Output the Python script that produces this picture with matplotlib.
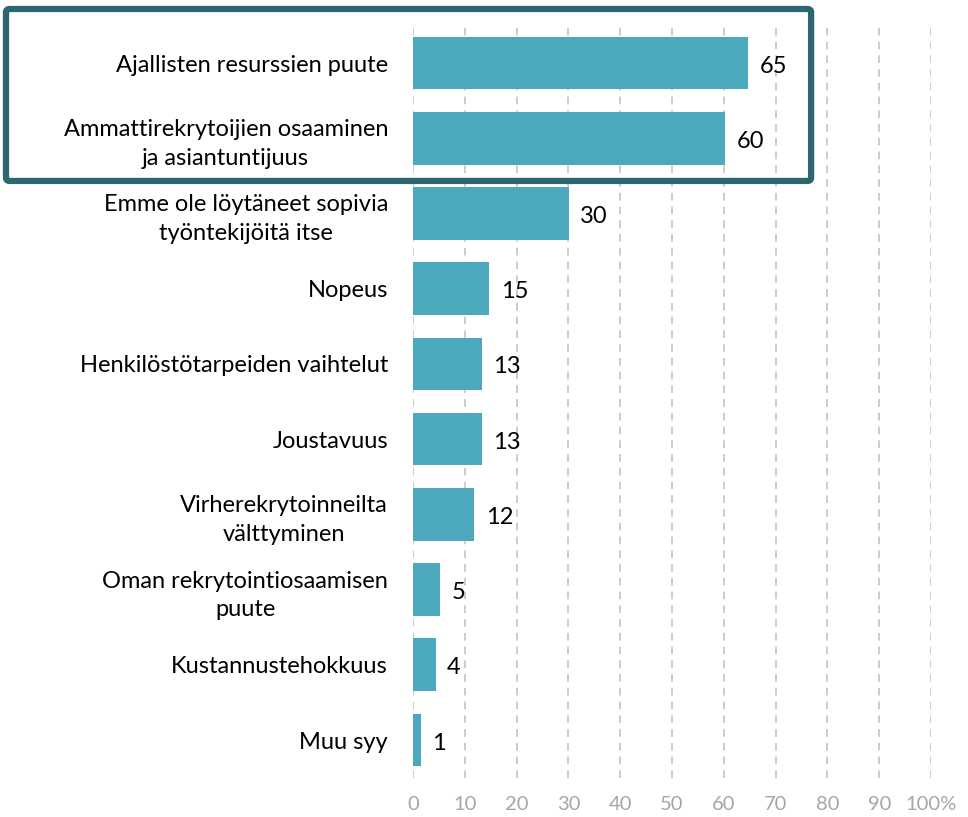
import numpy as np
import matplotlib.pyplot as plt
from matplotlib.patches import FancyBboxPatch

categories = [
    "Ajallisten resurssien puute",
    "Ammattirekrytoijien osaaminen\nja asiantuntijuus",
    "Emme ole löytäneet sopivia\ntyöntekijöitä itse",
    "Nopeus",
    "Henkilöstötarpeiden vaihtelut",
    "Joustavuus",
    "Virherekrytoinneilta\nvälttyminen",
    "Oman rekrytointiosaamisen\npuute",
    "Kustannustehokkuus",
    "Muu syy",
]
values = [64.7, 60.2, 30.1, 14.7, 13.3, 13.3, 11.8, 5.2, 4.4, 1.5]
labels = [65, 60, 30, 15, 13, 13, 12, 5, 4, 1]
xticks = list(range(0, 101, 10))
xticklabels = [str(t) for t in xticks[:-1]] + ["100%"]

bar_color = "#4ba8bd"
box_color = "#2e6670"

plt.rcParams['font.family'] = ['Lato', 'DejaVu Sans']

fig = plt.figure(figsize=(9.68, 8.17), dpi=100)
ax = fig.add_axes([0.4267, 0.0482, 0.5351, 0.9207])

y = np.arange(len(categories))
ax.barh(y, values, height=0.7, color=bar_color, zorder=2)

for yi, v, lab in zip(y, values, labels):
    ax.text(v + 2.2, yi + 0.04, str(lab), va='center', ha='left', fontsize=17, color='black')

ax.set_xlim(0, 100)
ax.set_ylim(9.5, -0.5)
ax.set_yticks(y)
ax.set_yticklabels(categories, fontsize=17, linespacing=1.45, ha='right')
for t in ax.get_yticklabels():
    t.set_multialignment('center')
ax.set_xticks(xticks)
ax.set_xticklabels(xticklabels, fontsize=14.5, color='#a6a6a6')
ax.tick_params(axis='both', length=0)
ax.tick_params(axis='y', pad=18)
ax.tick_params(axis='x', pad=13)
for s in ax.spines.values():
    s.set_visible(False)
ax.grid(axis='x', color='#bfbfbf', linestyle=(0, (5, 4)), linewidth=1.1, zorder=0)
ax.set_axisbelow(True)

box = FancyBboxPatch((0.0062, 0.7785), 0.8317, 0.2105, boxstyle="round,pad=0,rounding_size=0.004",
                     transform=fig.transFigure, fill=False, edgecolor=box_color, linewidth=4.5,
                     zorder=5)
fig.patches.append(box)

fig.savefig("out.png", dpi=100)
